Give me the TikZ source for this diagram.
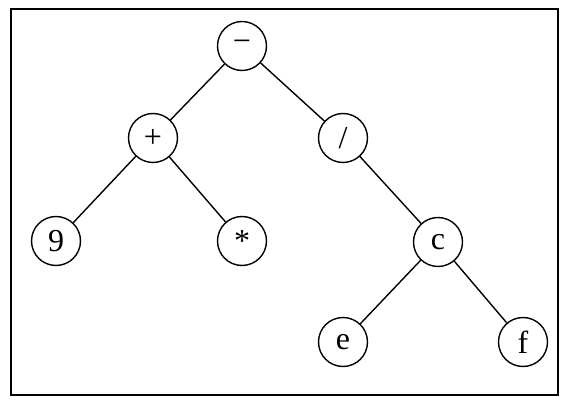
\documentclass[tikz,border=0pt]{standalone}
\usepackage{fontspec}
\setmainfont{Liberation Serif}
\begin{document}
\begin{tikzpicture}[x=1pt,y=-1pt,
  tnode/.style={circle,draw,line width=1.4pt,minimum size=49pt,inner sep=0pt,font=\fontsize{32}{34}\selectfont},
  tedge/.style={line width=1.4pt}]
\useasboundingbox (0,0) rectangle (565,403);
\node[draw,line width=2pt,minimum width=547pt,minimum height=385pt,inner sep=0pt] (frame) at (284,202) {};
\node[tnode] (minus) at (242,46) {−};
\node[tnode] (plus) at (153,138) {+};
\node[tnode] (div) at (343,138) {/};
\node[tnode] (nine) at (56,241) {9};
\node[tnode] (star) at (242,241) {*};
\node[tnode] (c) at (438,242) {c};
\node[tnode] (e) at (343,342) {e};
\node[tnode] (f) at (523,342) {f};
\draw[tedge] (minus) -- (plus);
\draw[tedge] (minus) -- (div);
\draw[tedge] (plus) -- (nine);
\draw[tedge] (plus) -- (star);
\draw[tedge] (div) -- (c);
\draw[tedge] (c) -- (e);
\draw[tedge] (c) -- (f);
\end{tikzpicture}
\end{document}
